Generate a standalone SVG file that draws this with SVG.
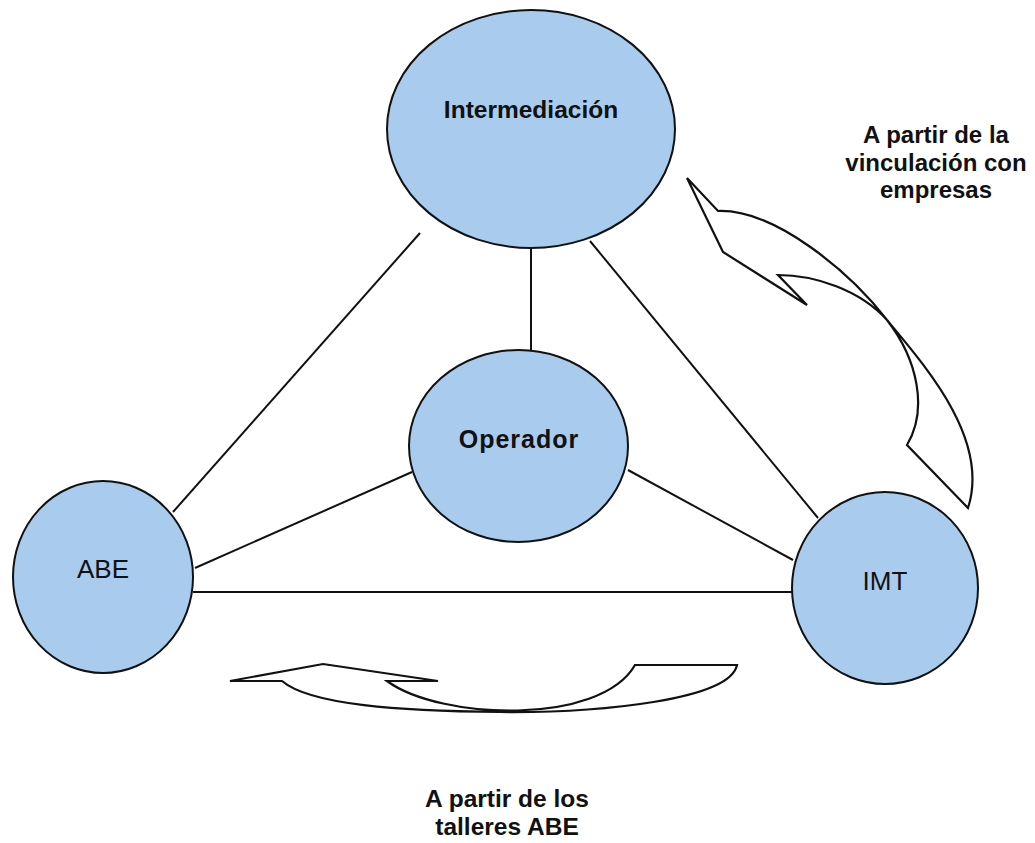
<svg xmlns="http://www.w3.org/2000/svg" width="1035" height="843" viewBox="0 0 1035 843">
<style>
.node{fill:#a9cbee;stroke:#111;stroke-width:2}
.edge{stroke:#111;stroke-width:2;fill:none}
.arrow{fill:#fff;stroke:#111;stroke-width:2.2;stroke-linejoin:miter}
.t{font-family:"Liberation Sans",Arial,sans-serif;fill:#111;text-anchor:middle}
.b{font-weight:bold}
</style>
<rect width="1035" height="843" fill="#fff"/>
<g id="connectors">
<line class="edge" x1="420" y1="233" x2="173" y2="512"/>
<line class="edge" x1="531" y1="248" x2="531" y2="350"/>
<line class="edge" x1="590" y1="241" x2="818" y2="518"/>
<line class="edge" x1="412" y1="472" x2="195" y2="568"/>
<line class="edge" x1="628" y1="470" x2="793" y2="560"/>
<line class="edge" x1="193" y1="592" x2="792" y2="592"/>
<path id="arrow-right" class="arrow" d="M687,178 L718,211 C775,209 850,272 887,320 C927,368 990,440 968,508 L907,445 C928,410 918,360 887,320 C860,290 815,275 778,275 L807,305 L723,252 Z"/>
<path id="arrow-bottom" class="arrow" d="M230,681 L323,664 L438,681 L387,681 C440,720 600,726 635,665 L737,665 C730,700 600,713 500,712 C400,711 310,705 282,681 Z"/>
</g>
<g id="node-intermediacion">
<ellipse class="node" cx="531" cy="129" rx="144" ry="119"/>
<text class="t b" x="531" y="118" font-size="24.5">Intermediación</text>
</g>
<g id="node-operador">
<ellipse class="node" cx="518.5" cy="446" rx="109.5" ry="96"/>
<text class="t b" x="519" y="448" font-size="25" letter-spacing="1">Operador</text>
</g>
<g id="node-abe">
<ellipse class="node" cx="103" cy="577" rx="90" ry="96"/>
<text class="t" x="103" y="578" font-size="26">ABE</text>
</g>
<g id="node-imt">
<ellipse class="node" cx="885" cy="588" rx="93" ry="96"/>
<text class="t" x="885" y="590" font-size="26">IMT</text>
</g>
<g id="label-empresas">
<text class="t b" x="936" y="143" font-size="24">A partir de la</text>
<text class="t b" x="936" y="171" font-size="24">vinculación con</text>
<text class="t b" x="936" y="198" font-size="24">empresas</text>
</g>
<g id="label-talleres">
<text class="t b" x="507" y="807" font-size="24.5">A partir de los</text>
<text class="t b" x="507" y="835" font-size="24.5">talleres ABE</text>
</g>
</svg>
